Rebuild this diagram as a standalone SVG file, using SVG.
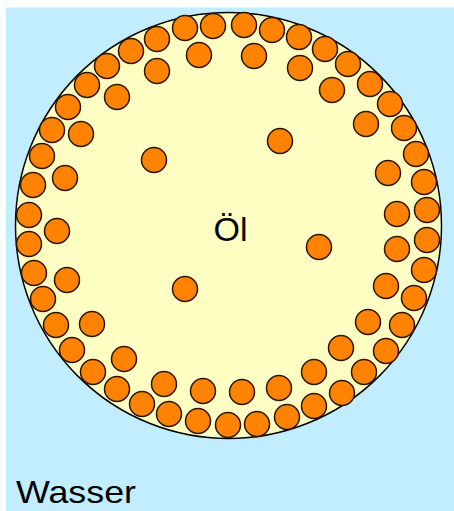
<svg xmlns="http://www.w3.org/2000/svg" width="454" height="511" viewBox="0 0 454 511">
<style>
.bg{fill:#c1edff}
.oil{fill:#ffffc4;stroke:#000;stroke-width:1.5}
.d{fill:#ff8200;stroke:#2a1400;stroke-width:1.5}
.t{font-family:"Liberation Sans",Arial,sans-serif;fill:#000}
</style>
<rect width="454" height="511" fill="#fff"/>
<rect class="bg" x="6" y="7.5" width="448" height="503.5"/>
<g id="oil">
<circle class="oil" cx="228.5" cy="225.5" r="213"/>
</g>
<g id="droplets">
<circle class="d" cx="42" cy="156" r="12.5"/>
<circle class="d" cx="52" cy="130" r="12.5"/>
<circle class="d" cx="68" cy="107" r="12.5"/>
<circle class="d" cx="87" cy="85" r="12.5"/>
<circle class="d" cx="107" cy="66" r="12.5"/>
<circle class="d" cx="131" cy="51" r="12.5"/>
<circle class="d" cx="157" cy="39" r="12.5"/>
<circle class="d" cx="185" cy="28" r="12.5"/>
<circle class="d" cx="213" cy="26" r="12.5"/>
<circle class="d" cx="244" cy="25" r="12.5"/>
<circle class="d" cx="272" cy="30" r="12.5"/>
<circle class="d" cx="299" cy="37" r="12.5"/>
<circle class="d" cx="325" cy="49" r="12.5"/>
<circle class="d" cx="348" cy="64" r="12.5"/>
<circle class="d" cx="370" cy="84" r="12.5"/>
<circle class="d" cx="390" cy="104" r="12.5"/>
<circle class="d" cx="404" cy="128" r="12.5"/>
<circle class="d" cx="416" cy="154" r="12.5"/>
<circle class="d" cx="424" cy="182" r="12.5"/>
<circle class="d" cx="427" cy="210" r="12.5"/>
<circle class="d" cx="427" cy="240" r="12.5"/>
<circle class="d" cx="424" cy="270" r="12.5"/>
<circle class="d" cx="414" cy="298" r="12.5"/>
<circle class="d" cx="402" cy="325" r="12.5"/>
<circle class="d" cx="386" cy="351" r="12.5"/>
<circle class="d" cx="364" cy="372" r="12.5"/>
<circle class="d" cx="342" cy="393" r="12.5"/>
<circle class="d" cx="314" cy="406" r="12.5"/>
<circle class="d" cx="287" cy="417" r="12.5"/>
<circle class="d" cx="257" cy="424" r="12.5"/>
<circle class="d" cx="228" cy="425" r="12.5"/>
<circle class="d" cx="198" cy="421" r="12.5"/>
<circle class="d" cx="169" cy="414" r="12.5"/>
<circle class="d" cx="142" cy="404" r="12.5"/>
<circle class="d" cx="117" cy="389" r="12.5"/>
<circle class="d" cx="93" cy="372" r="12.5"/>
<circle class="d" cx="72" cy="350" r="12.5"/>
<circle class="d" cx="56" cy="325" r="12.5"/>
<circle class="d" cx="43" cy="299" r="12.5"/>
<circle class="d" cx="34" cy="273" r="12.5"/>
<circle class="d" cx="29" cy="244" r="12.5"/>
<circle class="d" cx="29" cy="215" r="12.5"/>
<circle class="d" cx="33" cy="185" r="12.5"/>
<circle class="d" cx="65" cy="178" r="12.5"/>
<circle class="d" cx="81" cy="134" r="12.5"/>
<circle class="d" cx="117" cy="97" r="12.5"/>
<circle class="d" cx="157" cy="71" r="12.5"/>
<circle class="d" cx="199" cy="55" r="12.5"/>
<circle class="d" cx="254" cy="56" r="12.5"/>
<circle class="d" cx="300" cy="68" r="12.5"/>
<circle class="d" cx="332" cy="90" r="12.5"/>
<circle class="d" cx="366" cy="124" r="12.5"/>
<circle class="d" cx="388" cy="173" r="12.5"/>
<circle class="d" cx="397" cy="214" r="12.5"/>
<circle class="d" cx="397" cy="249" r="12.5"/>
<circle class="d" cx="386" cy="286" r="12.5"/>
<circle class="d" cx="368" cy="322" r="12.5"/>
<circle class="d" cx="341" cy="348" r="12.5"/>
<circle class="d" cx="314" cy="372" r="12.5"/>
<circle class="d" cx="279" cy="388" r="12.5"/>
<circle class="d" cx="242" cy="392" r="12.5"/>
<circle class="d" cx="203" cy="391" r="12.5"/>
<circle class="d" cx="164" cy="384" r="12.5"/>
<circle class="d" cx="124" cy="359" r="12.5"/>
<circle class="d" cx="92" cy="324" r="12.5"/>
<circle class="d" cx="67" cy="280" r="12.5"/>
<circle class="d" cx="57" cy="231" r="12.5"/>
<circle class="d" cx="154" cy="160" r="12.5"/>
<circle class="d" cx="280" cy="141" r="12.5"/>
<circle class="d" cx="319" cy="247" r="12.5"/>
<circle class="d" cx="185" cy="289" r="12.5"/>
</g>
<g id="labels">
<text class="t" x="230.5" y="241" font-size="34" text-anchor="middle">Öl</text>
<text class="t" x="16" y="503" font-size="32" textLength="120" lengthAdjust="spacingAndGlyphs">Wasser</text>
</g>
</svg>
